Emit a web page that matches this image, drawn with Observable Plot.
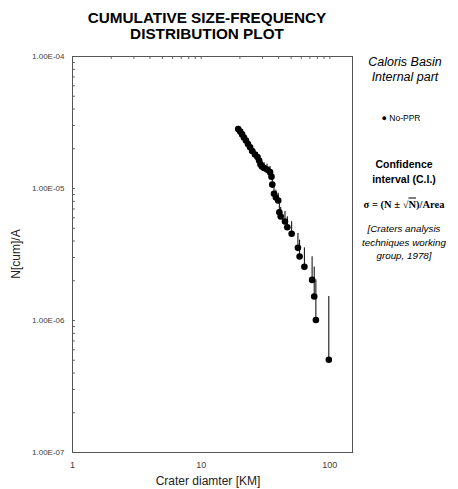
<!DOCTYPE html>
<html>
<head>
<meta charset="utf-8">
<script src="https://cdn.jsdelivr.net/npm/d3@7"></script>
<script src="https://cdn.jsdelivr.net/npm/@observablehq/plot@0.6"></script>
<style>
  body { margin: 0; background: #fff; }
  #wrap { position: relative; width: 458px; height: 489px; font-family: "Liberation Sans", Arial, sans-serif; color: #000; }
  .t { position: absolute; transform: translate(-50%, -50%); white-space: nowrap; text-align: center; }
</style>
</head>
<body>
<div id="wrap"></div>
<script>
// Crater diameters (km)
const diameters = [19.4, 20.1, 20.8, 21.5, 22.3, 23.1, 24.0, 24.9, 26.2, 27.4, 28.2, 28.9, 29.7, 30.8, 32.5, 34.3, 35.2, 35.7, 36.8, 38.1, 39.7, 40.5, 41.5, 44.8, 46.7, 50.5, 56.5, 58.2, 63.4, 72.8, 75.6, 77.9, 98.2];
// Cumulative frequency N[cum]/A
const values = [2.82e-5, 2.70e-5, 2.57e-5, 2.43e-5, 2.31e-5, 2.17e-5, 2.05e-5, 1.92e-5, 1.81e-5, 1.73e-5, 1.63e-5, 1.52e-5, 1.47e-5, 1.43e-5, 1.39e-5, 1.33e-5, 1.23e-5, 1.07e-5, 9.12e-6, 8.55e-6, 8.11e-6, 6.61e-6, 6.14e-6, 5.62e-6, 5.09e-6, 4.54e-6, 3.55e-6, 3.05e-6, 2.55e-6, 2.03e-6, 1.52e-6, 1.01e-6, 5.04e-7];
// Upper end of the confidence-interval bars
const upper = [2.96e-5, 2.84e-5, 2.71e-5, 2.58e-5, 2.46e-5, 2.32e-5, 2.19e-5, 2.06e-5, 1.95e-5, 1.87e-5, 1.77e-5, 1.66e-5, 1.61e-5, 1.57e-5, 1.53e-5, 1.47e-5, 1.37e-5, 1.19e-5, 1.03e-5, 9.7e-6, 9.2e-6, 7.7e-6, 7.2e-6, 6.7e-6, 6.1e-6, 5.6e-6, 4.56e-6, 4.06e-6, 3.55e-6, 3.04e-6, 2.54e-6, 2.03e-6, 1.52e-6];

const xTicks = [1, 10, 100];
const xTickLabels = ["1", "10", "100"];
const xMinor = [2,3,4,5,6,7,8,9,10,20,30,40,50,60,70,80,90,100];
const yTicks = [1e-7, 1e-6, 1e-5, 1e-4];
const yTickLabels = ["1.00E-07", "1.00E-06", "1.00E-05", "1.00E-04"];
const yMinor = [2e-7,3e-7,4e-7,5e-7,6e-7,7e-7,8e-7,9e-7,1e-6,2e-6,3e-6,4e-6,5e-6,6e-6,7e-6,8e-6,9e-6,1e-5,2e-5,3e-5,4e-5,5e-5,6e-5,7e-5,8e-5,9e-5];

const rows = diameters.map((d, i) => ({d, v: values[i], up: upper[i]}));

const W = 458, H = 489, ML = 72, MR = 106, MT = 56, MB = 37;
const tickLen = 3;

const chart = Plot.plot({
  width: W,
  height: H,
  marginLeft: ML,
  marginRight: MR,
  marginTop: MT,
  marginBottom: MB,
  x: {type: "log", domain: [1, 150]},
  y: {type: "log", domain: [1e-7, 1e-4]},
  style: {fontFamily: "Liberation Sans, Arial, sans-serif", background: "white", color: "#000"},
  marks: [
    Plot.axisY({ticks: yTicks, tickSize: 0, tickPadding: 8, fontSize: 8, fill: "#404040",
      tickFormat: d => yTickLabels[yTicks.indexOf(d)], label: null}),
    Plot.axisX({ticks: xTicks, tickSize: 0, tickPadding: 9, fontSize: 9, fill: "#404040",
      tickFormat: d => xTickLabels[xTicks.indexOf(d)], label: null}),
    // inward minor ticks on top and left edges
    Plot.ruleX(xMinor, {x: d => d, stroke: "#666", insetBottom: (H - MT - MB) - tickLen}),
    Plot.ruleY(yMinor, {y: d => d, stroke: "#666", insetRight: (W - ML - MR) - tickLen}),
    Plot.frame({stroke: "#555", strokeWidth: 1}),
    Plot.ruleX(rows, {x: "d", y1: "v", y2: "up", stroke: "#000", strokeWidth: 1}),
    Plot.dot(rows, {x: "d", y: "v", r: 3.3, fill: "#000", stroke: "none"})
  ]
});

const wrap = document.getElementById("wrap");
wrap.appendChild(chart);

function addText(html, x, y, style) {
  const el = document.createElement("div");
  el.className = "t";
  el.style.left = x + "px";
  el.style.top = y + "px";
  Object.assign(el.style, style || {});
  el.innerHTML = html;
  wrap.appendChild(el);
  return el;
}

addText("CUMULATIVE SIZE-FREQUENCY<br>DISTRIBUTION PLOT", 207, 26,
  {fontWeight: "bold", fontSize: "15.3px", lineHeight: "16px"});
addText("N[cum]/A", 16, 254, {fontSize: "12px", transform: "translate(-50%,-50%) rotate(-90deg)", color: "#222"});
addText("Crater diamter [KM]", 208, 481, {fontSize: "12px", color: "#222"});

addText("Caloris Basin<br>Internal part", 405, 70,
  {fontStyle: "italic", fontSize: "12.5px", lineHeight: "15px"});
addText("<span style='font-size:9px'>&#9679;</span> No-PPR", 401, 118, {fontSize: "8.5px"});
addText("Confidence<br>interval (C.I.)", 404, 172,
  {fontWeight: "bold", fontSize: "10.5px", lineHeight: "15px"});
addText("&sigma; = (N &plusmn; &radic;<span style='text-decoration:overline'>N</span>)/Area", 404, 204,
  {fontWeight: "bold", fontSize: "10.5px", fontFamily: "'Liberation Serif', 'DejaVu Serif', serif"});
addText("[Craters analysis<br>techniques working<br>group, 1978]", 404, 242,
  {fontStyle: "italic", fontSize: "9.8px", lineHeight: "13.5px"});
</script>
</body>
</html>
